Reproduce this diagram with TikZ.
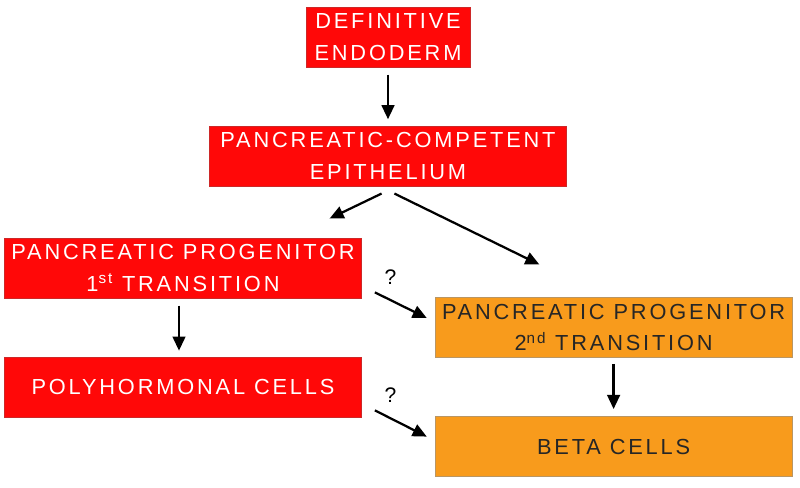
\documentclass[tikz,border=0pt]{standalone}
\usepackage{fontspec}
\setmainfont{Liberation Sans}[LetterSpace=13.0]
\newfontfamily\qfont{Liberation Sans}
\usetikzlibrary{positioning,arrows.meta}
\definecolor{boxred}{RGB}{255,8,8}
\definecolor{boxorange}{RGB}{248,155,28}
\definecolor{redline}{RGB}{205,40,40}
\definecolor{orangeline}{RGB}{185,150,100}

\begin{document}
\begin{tikzpicture}[->,>={Triangle[length=10pt,width=9pt]},line width=1.6pt,
      node distance=2.975cm,on grid,
      box/.style={rectangle,line width=0.5pt,minimum width=8.925cm,minimum height=1.5cm,
        inner sep=2pt,align=center,font=\fontsize{15.5}{22.5}\selectfont},
      redbox/.style={box,fill=boxred,draw=redline,text=white},
      orangebox/.style={box,fill=boxorange,draw=orangeline,text=black!85},
      qmark/.style={anchor=south,inner sep=0pt,yshift=10.5pt,text=black,
        font=\qfont\fontsize{15}{17}\selectfont}]
      \useasboundingbox (0,0) rectangle (20,-12.175);
      \node[redbox,minimum width=4.1cm] (de) at (9.7,-0.925) {DEFINITIVE\\ENDODERM};
      \node[redbox] (pce) [below=of de] {PANCREATIC-COMPETENT\\EPITHELIUM};
      \node[redbox] (pp1) [below left=2.8cm and 5.125cm of pce]
        {PANCREATIC PROGENITOR\\1\textsuperscript{st} TRANSITION};
      \node[redbox] (poly) [below=of pp1] {POLYHORMONAL CELLS};
      \node[orangebox] (pp2) [below right=4.29cm and 5.64cm of pce]
        {PANCREATIC PROGENITOR\\2\textsuperscript{nd} TRANSITION};
      \node[orangebox] (beta) [below=of pp2] {BETA CELLS};
      % straight down
      \draw[shorten <=0.18cm,shorten >=0.16cm] (de) -- (pce);
      \draw[shorten <=0.18cm,shorten >=0.15cm] ([xshift=-0.1cm]pp1.south) -- ([xshift=-0.1cm]poly.north);
      \draw[shorten <=0.15cm,shorten >=0.18cm] (pp2) -- (beta);
      % split below the epithelium
      \draw ([xshift=-0.16cm,yshift=-0.18cm]pce.south) -- ++(-1.3,-0.625);
      \draw ([xshift=0.16cm,yshift=-0.18cm]pce.south) -- ++(3.625,-1.775);
      % uncertain routes
      \draw ([xshift=0.325cm,yshift=0.15cm]pp1.south east)
        -- node[qmark,pos=0.3] {?} ([xshift=-0.2cm,yshift=0.24cm]pp2.west);
      \draw ([xshift=0.325cm,yshift=0.175cm]poly.south east)
        -- node[qmark,pos=0.3] {?} ([xshift=-0.2cm,yshift=0.25cm]beta.west);
\end{tikzpicture}
\end{document}
